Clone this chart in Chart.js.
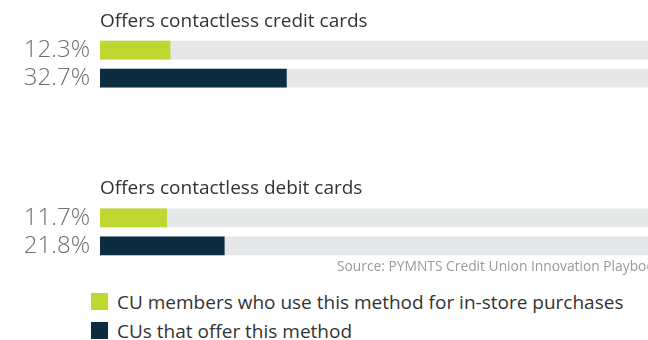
<!DOCTYPE html>
<html>
<head>
<meta charset="utf-8">
<script src="https://cdn.jsdelivr.net/npm/chart.js@4/dist/chart.umd.min.js"></script>
<style>
  body { margin: 0; width: 648px; height: 340px; overflow: hidden; background: #fff; position: relative; font-family: "Open Sans", sans-serif; }
  #wrap { position: absolute; left: 0; top: -2px; width: 670px; height: 272px; }
  #source { position: absolute; left: 337px; top: 256px; font-size: 13.8px; color: #9a9a9a; white-space: nowrap; }
  #legend { position: absolute; left: 91px; top: 287px; }
  .item { display: flex; align-items: center; height: 29px; font-size: 19px; color: #333; white-space: nowrap; }
  .box { width: 17px; height: 17px; margin-right: 9px; flex: none; }
</style>
</head>
<body>
<div id="wrap"><canvas id="chart"></canvas></div>
<div id="source">Source: PYMNTS Credit Union Innovation Playbook</div>
<div id="legend"></div>

<script>
// dados
const groups = ['Offers contactless credit cards', 'Offers contactless debit cards'];
const memberUse = [12.3, 11.7];
const cuOffer = [32.7, 21.8];
const seriesNames = ['CU members who use this method for in-store purchases', 'CUs that offer this method'];
const seriesColors = ['#bfd730', '#0b2d3f'];

// monta as linhas: titulo, barra verde, barra escura, e um espaco entre os grupos
const rowLabels = [];
const rowTitles = [];
const memberRows = [];
const offerRows = [];
const trackRows = [];

function pushRow(label, title, member, offer, track) {
    rowLabels.push(label);
    rowTitles.push(title);
    memberRows.push(member);
    offerRows.push(offer);
    trackRows.push(track);
}

groups.forEach((g, i) => {
    if (i > 0) {
        for (let k = 0; k < 3; k++) pushRow('', '', null, null, null);
    }
    pushRow('', g, null, null, null);
    pushRow(memberUse[i].toFixed(1) + '%', '', memberUse[i], null, 100);
    pushRow(cuOffer[i].toFixed(1) + '%', '', null, cuOffer[i], 100);
});

// titulo de cada grupo, escrito em cima da linha vazia
const groupTitles = {
    id: 'groupTitles',
    afterDatasetsDraw(chart) {
        const { ctx, chartArea } = chart;
        const y = chart.scales.y;
        ctx.save();
        ctx.font = '19px "Open Sans"';
        ctx.fillStyle = '#333333';
        ctx.textBaseline = 'middle';
        ctx.textAlign = 'left';
        rowTitles.forEach((t, i) => {
            if (t) ctx.fillText(t, chartArea.left, y.getPixelForValue(i) - 1);
        });
        ctx.restore();
    }
};

const ctx = document.getElementById('chart');

new Chart(ctx, {
    type: 'bar',
    data: {
        labels: rowLabels,
        datasets: [{
            label: seriesNames[0],
            data: memberRows,
            backgroundColor: seriesColors[0],
            order: 0
        }, {
            label: seriesNames[1],
            data: offerRows,
            backgroundColor: seriesColors[1],
            order: 0
        }, {
            label: 'track',
            data: trackRows,
            backgroundColor: '#e6e7e8',
            order: 1
        }]
    },
    options: {
        indexAxis: 'y',
        responsive: true,
        maintainAspectRatio: false,
        animation: false,
        datasets: {
            bar: {
                grouped: false,
                barThickness: 18,
                borderWidth: 0
            }
        },
        layout: { padding: 0 },
        plugins: {
            legend: { display: false },
            tooltip: { enabled: false }
        },
        scales: {
            x: {
                display: false,
                min: 0,
                max: 100
            },
            y: {
                grid: { display: false, drawTicks: false },
                border: { display: false },
                afterFit(scale) { scale.width = 100; },
                ticks: {
                    autoSkip: false,
                    padding: 10,
                    color: '#6d6e71',
                    font: { family: 'Open Sans', size: 24, weight: '300', lineHeight: 0.01 }
                }
            }
        }
    },
    plugins: [groupTitles]
});

// legenda
const legend = document.getElementById('legend');
seriesNames.forEach((name, i) => {
    const item = document.createElement('div');
    item.className = 'item';
    item.innerHTML = '<span class="box" style="background:' + seriesColors[i] + '"></span>' + name;
    legend.appendChild(item);
});
</script>
</body>
</html>
